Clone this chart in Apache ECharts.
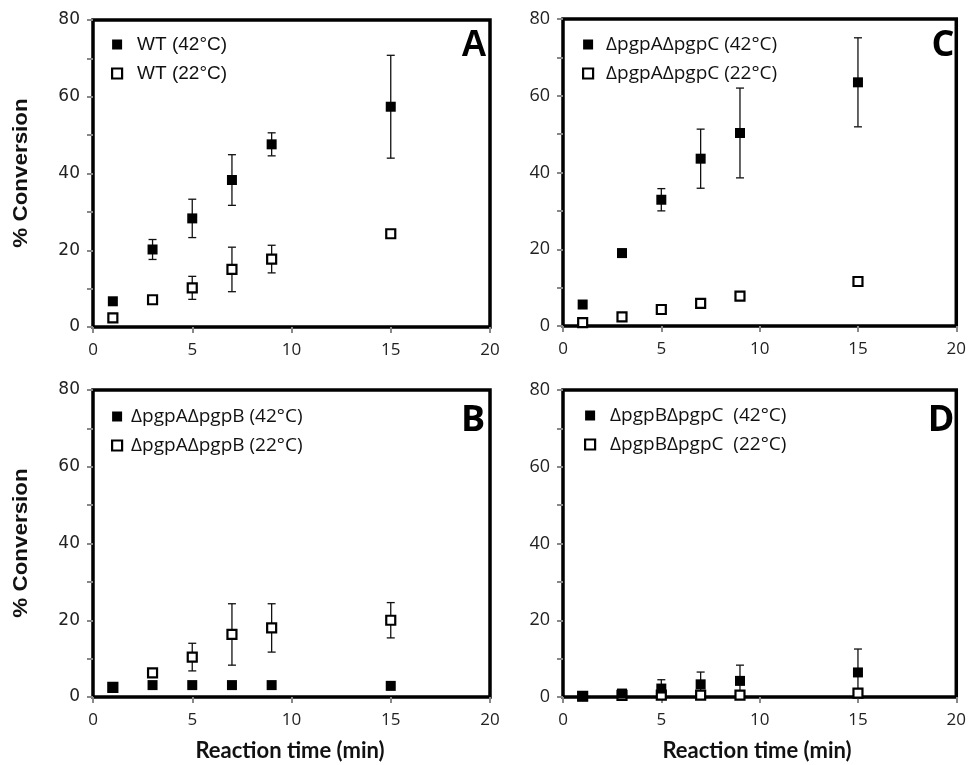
<!DOCTYPE html>
<html>
<head>
<meta charset="utf-8">
<script src="https://cdn.jsdelivr.net/npm/echarts@6/dist/echarts.min.js"></script>
<style>
html,body{margin:0;padding:0;background:#fff;}
#chart{width:969px;height:765px;}
</style>
</head>
<body>
<div id="chart"></div>
<script>
// ---- data ----
const timesMin = [1, 3, 5, 7, 9, 15];
const xTicks = [0, 5, 10, 15, 20];
const yTicks = [0, 20, 40, 60, 80];

// Panel A: WT
const wt42 = [6.7, 20.2, 28.3, 38.3, 47.6, 57.4];
const wt42Err = [0.6, 2.6, 5.0, 6.6, 3.0, 13.4];
const wt22 = [2.4, 7.1, 10.2, 15.0, 17.7, 24.3];
const wt22Err = [0.8, 0.6, 3.0, 5.8, 3.6, 1.0];

// Panel C: ΔpgpAΔpgpC
const ac42 = [5.6, 19.0, 32.9, 43.6, 50.3, 63.5];
const ac42Err = [0.8, 1.0, 2.9, 7.7, 11.7, 11.6];
const ac22 = [0.9, 2.4, 4.3, 5.9, 7.8, 11.6];
const ac22Err = [0.5, 0.8, 0.5, 0.6, 0.6, 0.7];

// Panel B: ΔpgpAΔpgpB
const ab42 = [2.6, 3.1, 3.1, 3.1, 3.1, 2.9];
const ab42Err = [0.4, 0.4, 0.6, 0.4, 0.6, 0.6];
const ab22 = [2.5, 6.3, 10.4, 16.3, 18.0, 20.0];
const ab22Err = [0.4, 0.6, 3.6, 8.0, 6.3, 4.6];

// Panel D: ΔpgpBΔpgpC
const bc42 = [0.2, 0.9, 2.2, 3.3, 4.2, 6.4];
const bc42Err = [0.3, 0.8, 2.3, 3.2, 4.1, 6.1];
const bc22 = [0.2, 0.4, 0.5, 0.5, 0.5, 1.0];
const bc22Err = [0.1, 0.2, 0.2, 0.2, 0.2, 0.3];

const panelLetters = ['A', 'C', 'B', 'D'];
const legendNames = [
  ['WT (42°C)', 'WT (22°C)'],
  ['ΔpgpAΔpgpC (42°C)', 'ΔpgpAΔpgpC (22°C)'],
  ['ΔpgpAΔpgpB (42°C)', 'ΔpgpAΔpgpB (22°C)'],
  ['ΔpgpBΔpgpC  (42°C)', 'ΔpgpBΔpgpC  (22°C)']
];
const yAxisTitle = '% Conversion';
const xAxisTitle = 'Reaction time (min)';

// ---- layout ----
const gridBoxes = [
  {left: 93, top: 20, width: 397, height: 307},
  {left: 563, top: 19, width: 397, height: 307},
  {left: 93, top: 390, width: 397, height: 307},
  {left: 563, top: 390, width: 397, height: 307}
];
const seriesSets = [
  [wt42, wt42Err, wt22, wt22Err],
  [ac42, ac42Err, ac22, ac22Err],
  [ab42, ab42Err, ab22, ab22Err],
  [bc42, bc42Err, bc22, bc22Err]
];

function errRender(params, api) {
  const x = api.value(0), lo = api.value(1), hi = api.value(2);
  const pLo = api.coord([x, lo]);
  const pHi = api.coord([x, hi]);
  const w = 4;
  const st = {stroke: '#111', lineWidth: 1.3};
  return {
    type: 'group',
    children: [
      {type: 'line', shape: {x1: pLo[0], y1: pLo[1], x2: pHi[0], y2: pHi[1]}, style: st},
      {type: 'line', shape: {x1: pHi[0] - w, y1: pHi[1], x2: pHi[0] + w, y2: pHi[1]}, style: st},
      {type: 'line', shape: {x1: pLo[0] - w, y1: pLo[1], x2: pLo[0] + w, y2: pLo[1]}, style: st}
    ]
  };
}

const grids = [], xAxes = [], yAxes = [], series = [], legends = [], graphics = [];
const isLeftCol = [true, false, true, false];

gridBoxes.forEach((g, i) => {
  grids.push({left: g.left, top: g.top, width: g.width, height: g.height,
    show: true, borderColor: '#000', borderWidth: 3.5, backgroundColor: 'transparent'});
  xAxes.push({
    type: 'value', gridIndex: i, min: xTicks[0], max: xTicks[xTicks.length - 1], interval: 5,
    axisLine: {show: false}, splitLine: {show: false},
    axisTick: {show: true, length: 6, lineStyle: {color: '#888', width: 2}},
    axisLabel: {fontFamily: 'Open Sans', fontSize: 17, color: '#222', margin: 15}
  });
  yAxes.push({
    type: 'value', gridIndex: i, min: 0, max: 80, interval: 10,
    axisLine: {show: false}, splitLine: {show: false},
    axisTick: {show: true, length: 6, lineStyle: {color: '#888', width: 2}},
    axisLabel: {
      fontFamily: isLeftCol[i] ? 'DejaVu Sans' : 'Open Sans',
      fontSize: isLeftCol[i] ? 17 : 18, color: '#222', margin: 13,
      formatter: v => (yTicks.indexOf(v) >= 0 ? String(v) : '')
    }
  });
  const [v42, e42, v22, e22] = seriesSets[i];
  series.push({
    type: 'custom', xAxisIndex: i, yAxisIndex: i, z: 2, clip: true, silent: true,
    renderItem: errRender,
    data: timesMin.map((t, k) => [t, v42[k] - e42[k], v42[k] + e42[k]])
  });
  series.push({
    type: 'custom', xAxisIndex: i, yAxisIndex: i, z: 2, clip: true, silent: true,
    renderItem: errRender,
    data: timesMin.map((t, k) => [t, v22[k] - e22[k], v22[k] + e22[k]])
  });
  series.push({
    name: legendNames[i][1], type: 'scatter', xAxisIndex: i, yAxisIndex: i, z: 3,
    symbol: 'rect', symbolSize: 9,
    itemStyle: {color: '#fff', borderColor: '#000', borderWidth: 2.2, opacity: 1},
    data: timesMin.map((t, k) => [t, v22[k]])
  });
  series.push({
    name: legendNames[i][0], type: 'scatter', xAxisIndex: i, yAxisIndex: i, z: 4,
    symbol: 'rect', symbolSize: 10,
    itemStyle: {color: '#000', opacity: 1},
    data: timesMin.map((t, k) => [t, v42[k]])
  });
});

const legendPos = [
  {left: 106, top: 30, font: 'Liberation Sans', size: 19, pad: 10},
  {left: 577, top: 30, font: 'Open Sans', size: 19, pad: 8},
  {left: 106, top: 402, font: 'Open Sans', size: 19, pad: 4},
  {left: 579, top: 401, font: 'Open Sans', size: 19, pad: 10}
];
legendPos.forEach((p, i) => {
  legends.push({
    orient: 'vertical', left: p.left, top: p.top, itemGap: 10,
    itemWidth: 10, itemHeight: 10, selectedMode: false,
    data: [
      {name: legendNames[i][0], icon: 'rect', itemStyle: {color: '#000', borderWidth: 0}},
      {name: legendNames[i][1], icon: 'rect', itemStyle: {color: '#fff', borderColor: '#000', borderWidth: 2.2}}
    ],
    textStyle: {fontFamily: p.font, fontSize: p.size, color: '#111', padding: [0, 0, 0, p.pad]}
  });
});

const letterPos = [
  {x: 474, y: 46, font: 'Liberation Sans'},
  {x: 943, y: 46, font: 'Open Sans'},
  {x: 473, y: 421, font: 'Open Sans'},
  {x: 941, y: 421, font: 'Open Sans'}
];
letterPos.forEach((p, i) => {
  graphics.push({type: 'text', x: p.x, y: p.y, z: 10,
    style: {text: panelLetters[i], font: 'bold 36px "' + p.font + '"', fill: '#000',
      align: 'center', verticalAlign: 'middle'}});
});
[173, 543].forEach(cy => {
  graphics.push({type: 'text', x: 21, y: cy, rotation: Math.PI / 2, scaleX: 1.12, z: 10,
    style: {text: yAxisTitle, font: 'bold 20px "Liberation Sans"', fill: '#111',
      align: 'center', verticalAlign: 'middle'}});
});
[290, 757].forEach(cx => {
  graphics.push({type: 'text', x: cx, y: 751, z: 10,
    style: {text: xAxisTitle, font: 'bold 22px Lato', fill: '#111',
      align: 'center', verticalAlign: 'middle'}});
});

const chart = echarts.init(document.getElementById('chart'), null, {renderer: 'canvas'});
chart.setOption({
  animation: false,
  backgroundColor: '#fff',
  grid: grids, xAxis: xAxes, yAxis: yAxes, series: series,
  legend: legends, graphic: graphics
});
</script>
</body>
</html>
